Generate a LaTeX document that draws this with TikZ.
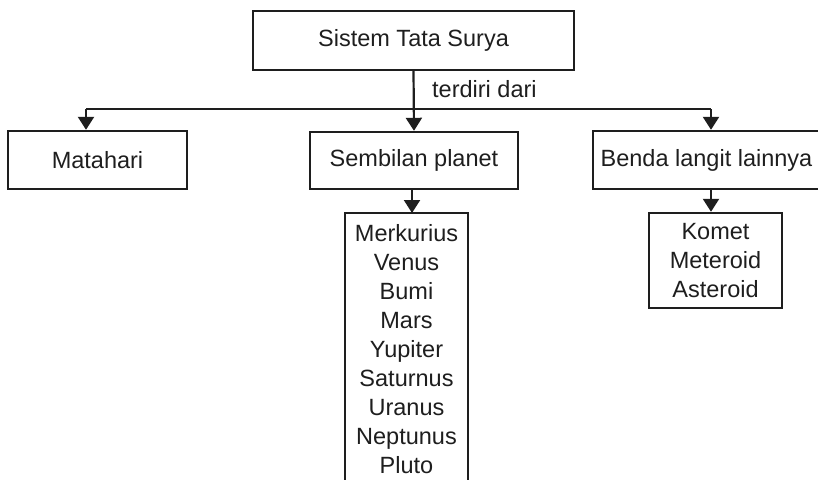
\documentclass[tikz,border=0pt]{standalone}
\usepackage{fontspec}
\setmainfont{Liberation Sans}
\usetikzlibrary{arrows.meta}
\definecolor{ink}{RGB}{30,30,30}
\begin{document}
\begin{tikzpicture}[x=1pt,y=1pt,
  every node/.style={font=\fontsize{23.5}{29}\selectfont, text=ink},
  box/.style={draw=ink, line width=2.4pt, inner sep=0pt},
  conn/.style={draw=ink, line width=2.2pt},
  arr/.style={conn, -{Triangle[width=16pt,length=13pt]}}]
\useasboundingbox (0,0) rectangle (818,-479);
\node[box, minimum width=321, minimum height=59] (top) at (413.5,-40.5) {Sistem Tata Surya};
\node[box, minimum width=179, minimum height=58] (sun) at (97.5,-160) {Matahari};
\node[box, minimum width=208, minimum height=57] (planet) at (414,-160.5) {Sembilan planet};
\node[box, minimum width=227, minimum height=58] (benda) at (706.5,-160) {Benda langit lainnya};
\node[box, minimum width=133, minimum height=95, align=center] (komet) at (715.5,-260.5) {Komet\\Meteroid\\Asteroid};
\node[anchor=base, align=center, inner sep=0pt] (list) at (406.5,-473) {Merkurius\\Venus\\Bumi\\Mars\\Yupiter\\Saturnus\\Uranus\\Neptunus\\Pluto};
\coordinate (lt) at (345,-213);
\coordinate (rt) at (468,-213);
\coordinate (lb) at (345,-490);
\coordinate (rb) at (468,-490);
\draw[box, line join=miter] (lb) -- (lt) -- (rt) -- (rb);
\coordinate (jl) at (86,-109);
\coordinate (jr) at (711,-109);
\draw[conn] (jl) -- (jr);
\draw[arr] (top.south) -- (planet.north);
\node[anchor=base west, inner sep=0pt] (lab) at (432,-97) {terdiri dari};
\draw[arr] (jl) -- (jl |- sun.north);
\draw[arr] (jr) -- (jr |- benda.north);
\draw[arr] (planet.south -| 412,0) -- (412,0 |- lt);
\draw[arr] ([xshift=4.5pt]benda.south) -- ([xshift=4.5pt]benda.south |- komet.north);
\end{tikzpicture}
\end{document}
